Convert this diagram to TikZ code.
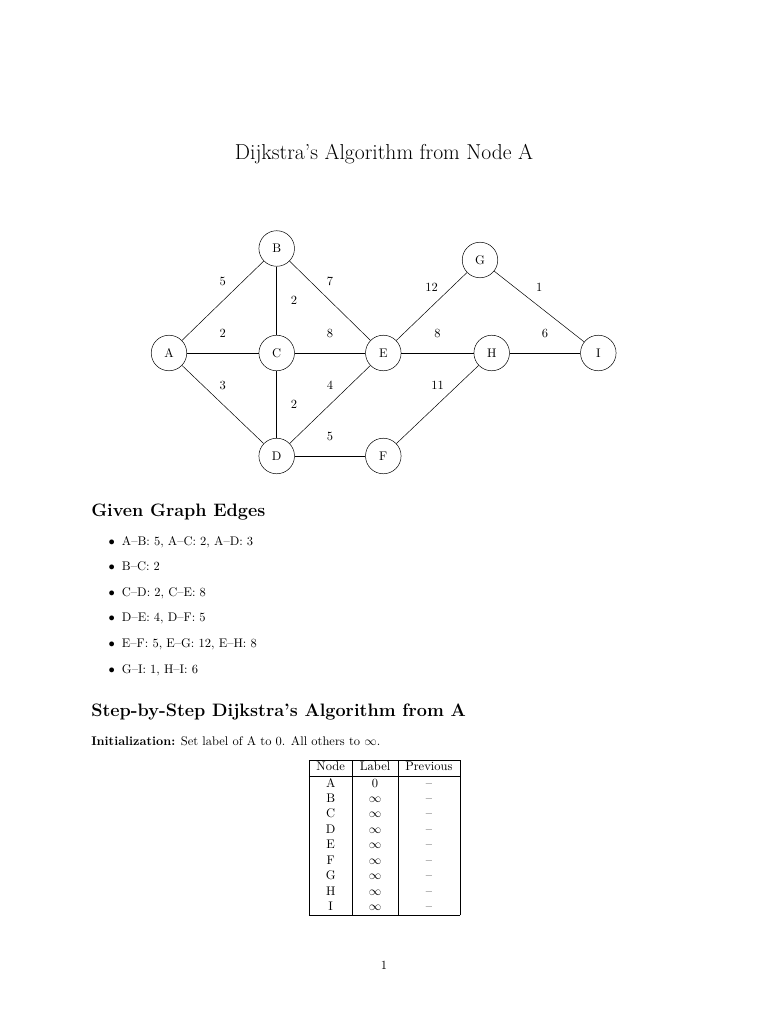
\documentclass[tikz,border=0pt]{standalone}
\usepackage{amsmath}
\begin{document}
\begin{tikzpicture}[x=0.8pt,y=-0.8pt,
  vertex/.style={draw,circle,minimum size=1cm,inner sep=0pt,font=\normalsize},
  lbl/.style={above=8.6pt,inner sep=3.33pt,font=\normalsize},
  lblr/.style={right=7.8pt,inner sep=3.33pt,font=\normalsize},
  edge/.style={line width=0.4pt},
  bul/.style={anchor=base,inner sep=0pt},
  item/.style={anchor=base west,inner sep=0pt},
  sect/.style={anchor=base west,inner sep=0pt,font=\Large\bfseries}]
\useasboundingbox (0,0) rectangle (768,1024);
% title
\node[anchor=base,inner sep=0pt,font=\LARGE] (title) at (384,159.3) {Dijkstra's Algorithm from Node A};
% graph nodes
\node[vertex] (B) at (276.7,248.5) {B};
\node[vertex] (G) at (480,260) {G};
\node[vertex] (A) at (169,353) {A};
\node[vertex] (C) at (276.7,353) {C};
\node[vertex] (E) at (383.3,353) {E};
\node[vertex] (H) at (491.7,353) {H};
\node[vertex] (I) at (598.3,353) {I};
\node[vertex] (D) at (276.7,456) {D};
\node[vertex] (F) at (383.3,456) {F};
% edges
\draw[edge] (A) -- node[lbl] {5} (B);
\draw[edge] (A) -- node[lbl] {2} (C);
\draw[edge] (A) -- node[lbl] {3} (D);
\draw[edge] (B) -- node[lblr] {2} (C);
\draw[edge] (B) -- node[lbl] {7} (E);
\draw[edge] (C) -- node[lblr] {2} (D);
\draw[edge] (C) -- node[lbl] {8} (E);
\draw[edge] (D) -- node[lbl] {4} (E);
\draw[edge] (D) -- node[lbl] {5} (F);
\draw[edge] (E) -- node[lbl] {12} (G);
\draw[edge] (E) -- node[lbl] {8} (H);
\draw[edge] (F) -- node[lbl] {11} (H);
\draw[edge] (G) -- node[lbl] {1} (I);
\draw[edge] (H) -- node[lbl] {6} (I);
% section 1
\node[sect] (s1) at (91,516) {Given Graph Edges};
\node[bul] (b1) at (111.7,545.3) {$\bullet$};
\node[item] (i1) at (121.7,545.3) {A--B: 5, A--C: 2, A--D: 3};
\node[bul] (b2) at (111.7,570.5) {$\bullet$};
\node[item] (i2) at (121.7,570.5) {B--C: 2};
\node[bul] (b3) at (111.7,596) {$\bullet$};
\node[item] (i3) at (121.7,596) {C--D: 2, C--E: 8};
\node[bul] (b4) at (111.7,621.8) {$\bullet$};
\node[item] (i4) at (121.7,621.8) {D--E: 4, D--F: 5};
\node[bul] (b5) at (111.7,647.5) {$\bullet$};
\node[item] (i5) at (121.7,647.5) {E--F: 5, E--G: 12, E--H: 8};
\node[bul] (b6) at (111.7,673.2) {$\bullet$};
\node[item] (i6) at (121.7,673.2) {G--I: 1, H--I: 6};
% section 2
\node[sect] (s2) at (91,716.5) {Step-by-Step Dijkstra's Algorithm from A};
\node[item] (init) at (91,745) {\textbf{Initialization:} Set label of A to 0. All others to $\infty$.};
\node[anchor=north west,inner sep=0pt] (tab) at (308.7,759.3) {%
\renewcommand{\arraystretch}{1.03}%
\setlength{\arrayrulewidth}{0.5pt}%
\begin{tabular}{|c|c|c|}
\hline
Node & Label & Previous\\
\hline
A & 0 & --\\
B & $\infty$ & --\\
C & $\infty$ & --\\
D & $\infty$ & --\\
E & $\infty$ & --\\
F & $\infty$ & --\\
G & $\infty$ & --\\
H & $\infty$ & --\\
I & $\infty$ & --\\
\hline
\end{tabular}};
% page number
\node[anchor=base,inner sep=0pt] (pg) at (384,969) {1};
\end{tikzpicture}
\end{document}
